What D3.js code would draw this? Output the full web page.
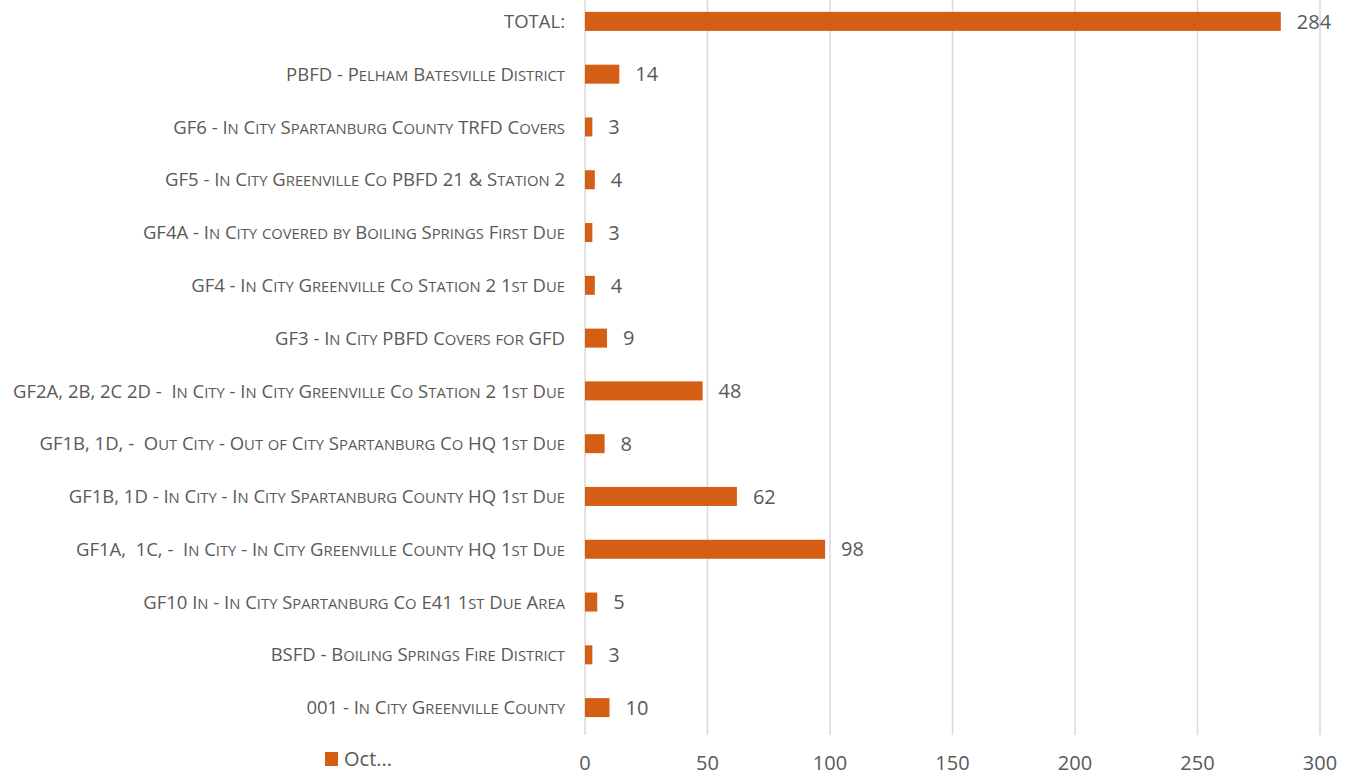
<!DOCTYPE html>
<html>
<head>
<meta charset="utf-8">
<script src="https://cdn.jsdelivr.net/npm/d3@7"></script>
<style>
  body { margin: 0; background: #fff; }
  svg text { font-family: "Open Sans", sans-serif; fill: #595959; }
  .cat { white-space: pre; }
</style>
</head>
<body>
<div id="chart"></div>
<script>
// categories top to bottom, as shown
const categories = [
    "TOTAL:",
    "PBFD - Pelham Batesville District",
    "GF6 - In City Spartanburg County TRFD Covers",
    "GF5 - In City Greenville Co PBFD 21 & Station 2",
    "GF4A - In City covered by Boiling Springs First Due",
    "GF4 - In City Greenville Co Station 2 1st Due",
    "GF3 - In City PBFD Covers for GFD",
    "GF2A, 2B, 2C 2D -  In City - In City Greenville Co Station 2 1st Due",
    "GF1B, 1D, -  Out City - Out of City Spartanburg Co HQ 1st Due",
    "GF1B, 1D - In City - In City Spartanburg County HQ 1st Due",
    "GF1A,  1C, -  In City - In City Greenville County HQ 1st Due",
    "GF10 In - In City Spartanburg Co E41 1st Due Area",
    "BSFD - Boiling Springs Fire District",
    "001 - In City Greenville County"
]
const octValues = [284, 14, 3, 4, 3, 4, 9, 48, 8, 62, 98, 5, 3, 10]
const xTicks = [0, 50, 100, 150, 200, 250, 300]
const seriesName = "Oct..."

const width = 1349
const height = 775
const color = "#D45F14"
const labelSize = 18.5

const data = categories.map((c, i) => ({ cat: c, value: octValues[i] }))

const svg = d3.select("#chart")
    .append("svg")
    .attr("width", width)
    .attr("height", height)

const x = d3.scaleLinear()
    .domain([0, 300])
    .range([585, 1320])

const y = d3.scaleBand()
    .domain(categories)
    .range([-5, 734])
    .paddingInner(0.64)
    .paddingOuter(0.32)

// gridlines
svg.append("g")
    .selectAll("line")
    .data(xTicks)
    .enter()
    .append("line")
    .attr("x1", d => x(d))
    .attr("x2", d => x(d))
    .attr("y1", 0)
    .attr("y2", 735)
    .attr("stroke", "#d9d9d9")
    .attr("stroke-width", 1.5)

// bars
svg.append("g")
    .selectAll("rect")
    .data(data)
    .enter()
    .append("rect")
    .attr("x", x(0))
    .attr("y", d => y(d.cat))
    .attr("width", d => x(d.value) - x(0))
    .attr("height", y.bandwidth())
    .attr("fill", color)

// value labels
svg.append("g")
    .selectAll("text")
    .data(data)
    .enter()
    .append("text")
    .attr("x", d => x(d.value) + 16)
    .attr("y", d => y(d.cat) + y.bandwidth() / 2)
    .attr("dy", "0.36em")
    .style("font-size", "20px")
    .text(d => d.value)

// category labels, small caps made by hand (lowercase runs -> smaller capitals)
const catLabels = svg.append("g")
    .selectAll("text")
    .data(data)
    .enter()
    .append("text")
    .attr("class", "cat")
    .attr("x", 565)
    .attr("y", d => y(d.cat) + y.bandwidth() / 2)
    .attr("dy", "0.36em")
    .attr("text-anchor", "end")
    .style("font-size", labelSize + "px")

catLabels.each(function (d) {
    const runs = d.cat.match(/[a-z]+|[^a-z]+/g)
    const t = d3.select(this)
    runs.forEach(r => {
        const lower = /^[a-z]/.test(r)
        t.append("tspan")
            .style("font-size", (lower ? labelSize * 0.8 : labelSize) + "px")
            .text(lower ? r.toUpperCase() : r)
    })
})

// x axis tick labels
svg.append("g")
    .selectAll("text")
    .data(xTicks)
    .enter()
    .append("text")
    .attr("x", d => x(d))
    .attr("y", 763)
    .attr("dy", "0.36em")
    .attr("text-anchor", "middle")
    .style("font-size", "20px")
    .text(d => d)

// legend
const legend = svg.append("g")
legend.append("rect")
    .attr("x", 325)
    .attr("y", 752)
    .attr("width", 13)
    .attr("height", 14)
    .attr("fill", color)
legend.append("text")
    .attr("x", 344)
    .attr("y", 759)
    .attr("dy", "0.36em")
    .style("font-size", "20px")
    .text(seriesName)
</script>
</body>
</html>
